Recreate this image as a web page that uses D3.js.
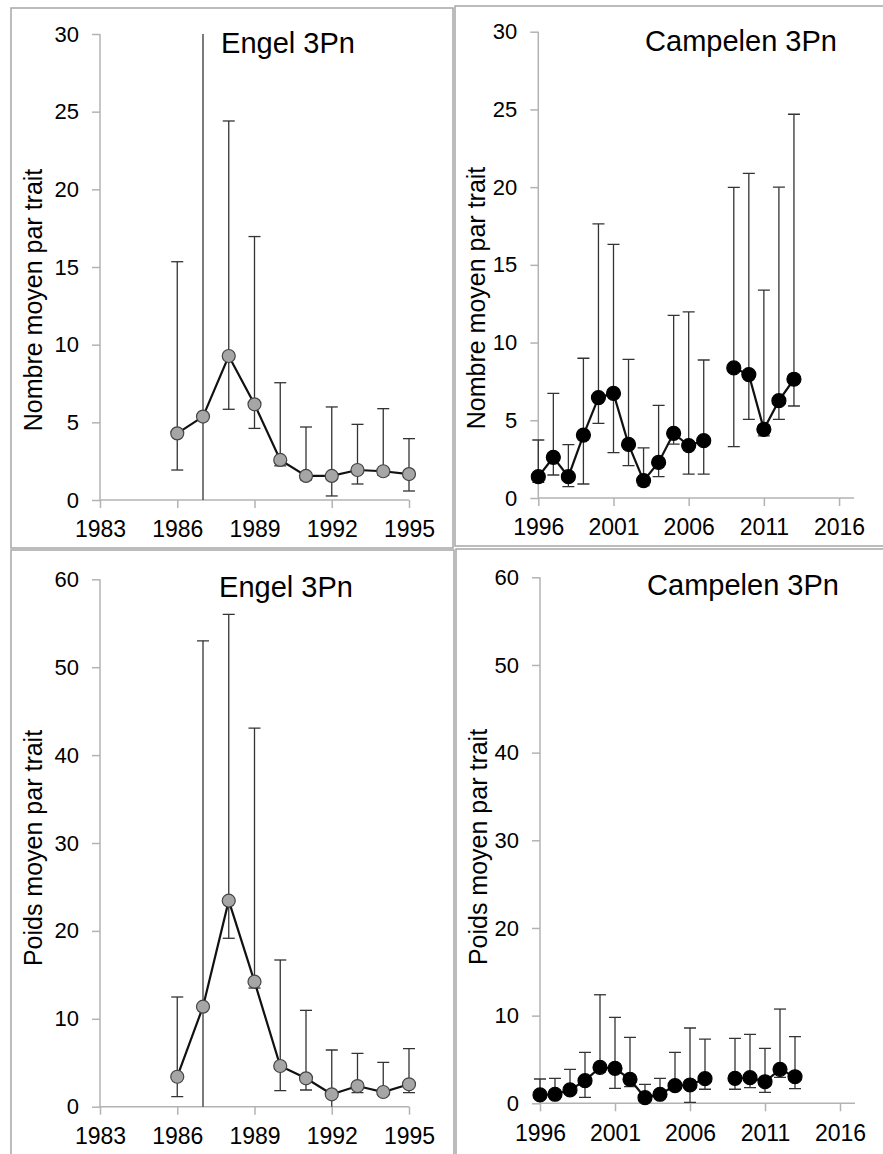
<!DOCTYPE html>
<html>
<head>
<meta charset="utf-8">
<script src="https://cdn.jsdelivr.net/npm/d3@7"></script>
<style>
  body { margin: 0; background: #fff; }
  svg { display: block; font-family: "Liberation Sans", Arial, sans-serif; }
</style>
</head>
<body>
<svg id="chart" width="883" height="1154"></svg>
<script>
// --- data ---
const engelYears = [1986, 1987, 1988, 1989, 1990, 1991, 1992, 1993, 1994, 1995];
const engelNombre     = [4.29, 5.37, 9.27, 6.16, 2.58, 1.55, 1.55, 1.93, 1.85, 1.67];
const engelNombreLow  = [1.93, -1, 5.84, 4.61, 2.2, 1.3, 0.26, 1.03, 1.6, 0.58];
const engelNombreHigh = [15.34, 35, 24.4, 16.96, 7.55, 4.70, 5.99, 4.87, 5.88, 3.95];

const engelPoids     = [3.41, 11.38, 23.44, 14.22, 4.63, 3.23, 1.41, 2.35, 1.67, 2.55];
const engelPoidsLow  = [1.14, -1, 19.16, 13.5, 1.82, 1.90, -0.5, 1.59, 1.4, 1.59];
const engelPoidsHigh = [12.48, 53.0, 56.0, 43.08, 16.69, 10.96, 6.45, 6.07, 5.05, 6.60];

const campYears = [1996, 1997, 1998, 1999, 2000, 2001, 2002, 2003, 2004, 2005, 2006, 2007, 2008, 2009, 2010, 2011, 2012, 2013];
const campNombre     = [1.37, 2.62, 1.37, 4.05, 6.46, 6.73, 3.45, 1.12, 2.29, 4.16, 3.37, 3.69, null, 8.37, 7.94, 4.42, 6.26, 7.64];
const campNombreLow  = [1.0, 1.48, 0.73, 0.90, 4.80, 2.92, 2.08, 0.8, 1.37, 3.47, 1.54, 1.54, null, 3.30, 5.06, 4.0, 5.06, 5.92];
const campNombreHigh = [3.73, 6.73, 3.43, 8.99, 17.63, 16.32, 8.92, 3.22, 5.96, 11.75, 11.97, 8.88, null, 19.99, 20.89, 13.38, 20.0, 24.69];

const campPoids     = [0.95, 1.03, 1.52, 2.58, 4.10, 3.99, 2.74, 0.64, 1.03, 2.01, 2.09, 2.81, null, 2.85, 2.92, 2.46, 3.87, 3.03];
const campPoidsLow  = [0.8, 0.8, 1.2, 0.68, 3.6, 1.71, 1.90, 0.4, 0.8, 1.8, 0.11, 1.60, null, 1.60, 1.78, 1.25, 2.96, 1.67];
const campPoidsHigh = [2.77, 2.85, 3.87, 5.81, 12.38, 9.80, 7.52, 2.17, 2.85, 5.81, 8.59, 7.33, null, 7.41, 7.87, 6.27, 10.75, 7.60];

const engelTicks = [1983, 1986, 1989, 1992, 1995];
const campTicks = [1996, 2001, 2006, 2011, 2016];
const nombreTicks = [0, 5, 10, 15, 20, 25, 30];
const poidsTicks = [0, 10, 20, 30, 40, 50, 60];

const svg = d3.select("#chart");
const axisColor = "#b3b3b3";

// panel frames
const frames = [
    { x: 11, y: 8, w: 442, h: 540 },
    { x: 455, y: 6, w: 440, h: 540 },
    { x: 11, y: 550, w: 443, h: 620 },
    { x: 456, y: 549, w: 440, h: 620 }
];
frames.forEach(f => {
    svg.append("rect")
        .attr("x", f.x).attr("y", f.y)
        .attr("width", f.w).attr("height", f.h)
        .attr("fill", "none")
        .attr("stroke", "#a6a6a6")
        .attr("stroke-width", 1.5);
});

let clipId = 0;

function drawPanel(cfg) {
    const x = d3.scaleLinear().domain(cfg.xDomain).range(cfg.xRange);
    const y = d3.scaleLinear().domain(cfg.yDomain).range(cfg.yRange);
    const g = svg.append("g");

    // y axis
    const yAxis = g.append("g")
        .attr("transform", `translate(${cfg.xRange[0]},0)`)
        .call(d3.axisLeft(y).tickValues(cfg.yTicks).tickSize(8).tickPadding(13).tickFormat(d3.format("d")));
    yAxis.select(".domain").attr("stroke", axisColor).attr("stroke-width", 1.5)
        .attr("d", `M0,${cfg.yRange[0]}V${cfg.yRange[1]}`);
    yAxis.selectAll(".tick line").attr("stroke", axisColor).attr("stroke-width", 1.5);
    yAxis.selectAll(".tick text").attr("font-size", 22).attr("fill", "#000")
        .attr("font-family", "Liberation Sans, Arial, sans-serif");

    // x axis
    const xAxis = g.append("g")
        .attr("transform", `translate(0,${cfg.yRange[0]})`)
        .call(d3.axisBottom(x).tickValues(cfg.xTicks).tickSize(8).tickPadding(13).tickFormat(d3.format("d")));
    xAxis.select(".domain").attr("stroke", axisColor).attr("stroke-width", 1.5)
        .attr("d", `M${cfg.xRange[0]},0H${cfg.xRange[1]}`);
    xAxis.selectAll(".tick line").attr("stroke", axisColor).attr("stroke-width", 1.5);
    xAxis.selectAll(".tick text").attr("font-size", 23).attr("fill", "#000")
        .attr("font-family", "Liberation Sans, Arial, sans-serif");

    // clip error bars to value range
    const id = "clip" + (clipId++);
    svg.append("clipPath").attr("id", id)
        .append("rect")
        .attr("x", cfg.xRange[0] - 20).attr("y", cfg.yRange[1])
        .attr("width", cfg.xRange[1] - cfg.xRange[0] + 40)
        .attr("height", cfg.yRange[0] - cfg.yRange[1]);

    const pts = cfg.years.map((yr, i) => ({
        yr, v: cfg.values[i], lo: cfg.low[i], hi: cfg.high[i]
    }));
    const valid = pts.filter(d => d.v != null);

    const eb = g.append("g").attr("clip-path", `url(#${id})`);
    eb.selectAll(".bar").data(valid).enter().append("line")
        .attr("x1", d => x(d.yr)).attr("x2", d => x(d.yr))
        .attr("y1", d => y(d.lo)).attr("y2", d => y(d.hi))
        .attr("stroke", "#333").attr("stroke-width", 1.3);
    eb.selectAll(".capHi").data(valid).enter().append("line")
        .attr("x1", d => x(d.yr) - 6).attr("x2", d => x(d.yr) + 6)
        .attr("y1", d => y(d.hi)).attr("y2", d => y(d.hi))
        .attr("stroke", "#333").attr("stroke-width", 1.3);
    eb.selectAll(".capLo").data(valid).enter().append("line")
        .attr("x1", d => x(d.yr) - 6).attr("x2", d => x(d.yr) + 6)
        .attr("y1", d => y(d.lo)).attr("y2", d => y(d.lo))
        .attr("stroke", "#333").attr("stroke-width", 1.3);

    // line with gap for missing years
    const line = d3.line()
        .defined(d => d.v != null)
        .x(d => x(d.yr))
        .y(d => y(d.v));
    g.append("path").datum(pts)
        .attr("d", line)
        .attr("fill", "none")
        .attr("stroke", "#111")
        .attr("stroke-width", 2.2);

    g.selectAll(".dot").data(valid).enter().append("circle")
        .attr("cx", d => x(d.yr)).attr("cy", d => y(d.v))
        .attr("r", cfg.radius)
        .attr("fill", cfg.fill)
        .attr("stroke", cfg.stroke)
        .attr("stroke-width", 1.2);

    // title
    g.append("text")
        .attr("x", cfg.titlePos[0]).attr("y", cfg.titlePos[1])
        .attr("text-anchor", "middle")
        .attr("font-size", 29)
        .attr("fill", "#000")
        .text(cfg.title);

    // y label
    g.append("text")
        .attr("transform", `translate(${cfg.labelPos[0]},${cfg.labelPos[1]}) rotate(-90)`)
        .attr("text-anchor", "middle")
        .attr("font-size", 25)
        .attr("fill", "#000")
        .text(cfg.yLabel);
}

drawPanel({
    years: engelYears, values: engelNombre, low: engelNombreLow, high: engelNombreHigh,
    xDomain: [1983, 1995], xRange: [100, 409], xTicks: engelTicks,
    yDomain: [0, 30], yRange: [500, 34], yTicks: nombreTicks,
    title: "Engel 3Pn", titlePos: [288, 53],
    yLabel: "Nombre moyen par trait", labelPos: [42, 300],
    radius: 6.5, fill: "#a6a6a6", stroke: "#444"
});

drawPanel({
    years: campYears, values: campNombre, low: campNombreLow, high: campNombreHigh,
    xDomain: [1996, 2017], xRange: [538.3, 854.1], xTicks: campTicks,
    yDomain: [0, 30], yRange: [498, 31.7], yTicks: nombreTicks,
    title: "Campelen 3Pn", titlePos: [741, 51],
    yLabel: "Nombre moyen par trait", labelPos: [485, 298],
    radius: 7, fill: "#000", stroke: "#000"
});

drawPanel({
    years: engelYears, values: engelPoids, low: engelPoidsLow, high: engelPoidsHigh,
    xDomain: [1983, 1995], xRange: [100, 409], xTicks: engelTicks,
    yDomain: [0, 60], yRange: [1106.7, 579.3], yTicks: poidsTicks,
    title: "Engel 3Pn", titlePos: [286, 597],
    yLabel: "Poids moyen par trait", labelPos: [42, 848],
    radius: 6.5, fill: "#a6a6a6", stroke: "#444"
});

drawPanel({
    years: campYears, values: campPoids, low: campPoidsLow, high: campPoidsHigh,
    xDomain: [1996, 2017], xRange: [540, 855], xTicks: campTicks,
    yDomain: [0, 60], yRange: [1103.3, 577.3], yTicks: poidsTicks,
    title: "Campelen 3Pn", titlePos: [743, 595],
    yLabel: "Poids moyen par trait", labelPos: [487, 847],
    radius: 7, fill: "#000", stroke: "#000"
});
</script>
</body>
</html>
